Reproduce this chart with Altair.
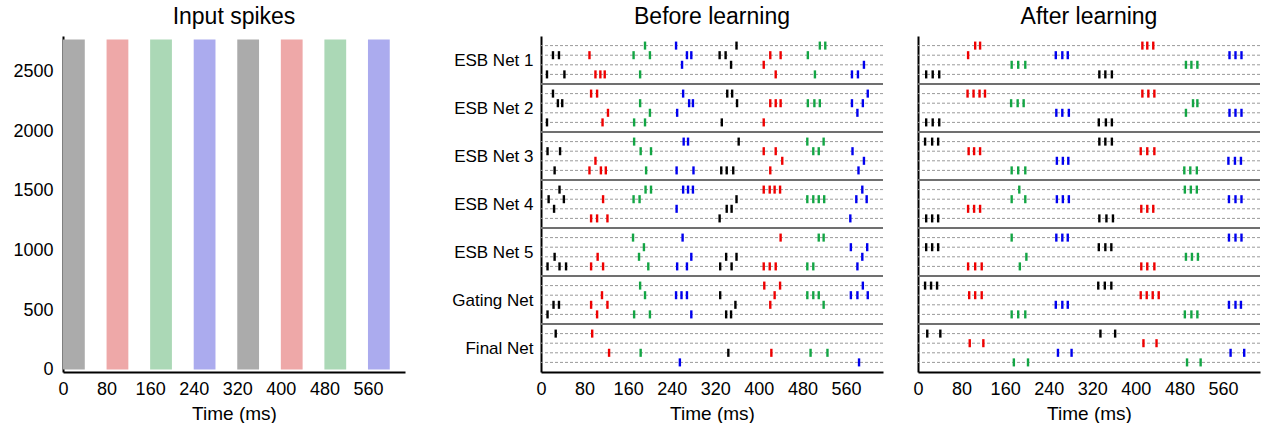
import altair as alt
import pandas as pd

FONT = "Liberation Sans"

# ---------------- text / ticks ----------------
GROUP_NAMES = ["ESB Net 1", "ESB Net 2", "ESB Net 3", "ESB Net 4",
               "ESB Net 5", "Gating Net", "Final Net"]
X_TICKS = [0, 80, 160, 240, 320, 400, 480, 560]
Y_TICKS_INPUT = [0, 500, 1000, 1500, 2000, 2500]
TITLES = ["Input spikes", "Before learning", "After learning"]
X_TITLE = "Time (ms)"

# ---------------- input spike bands ----------------
BAND_START = [0, 80, 160, 240, 320, 400, 480, 560]
BAND_END = [40, 120, 200, 280, 360, 440, 520, 600]
BAND_COLOR = ["k", "r", "g", "b", "k", "r", "g", "b"]
INPUT_NEURONS = 2770

# ---------------- spikes: (time ms, colour) per row, 4 rows per net ----------------
BEFORE_1 = [
    [(191, "g"), (248, "b"), (359, "k"), (512, "g"), (522, "g")],
    [(22, "k"), (33, "k"), (89, "r"), (170, "g"), (200, "g"), (268, "b"), (276, "b"),
     (328, "k"), (339, "k"), (421, "r"), (440, "r"), (490, "g")],
    [(259, "b"), (349, "k"), (409, "r"), (593, "b")],
    [(11, "k"), (43, "k"), (100, "r"), (109, "r"), (117, "r"), (182, "g"), (431, "r"),
     (503, "g"), (571, "b"), (582, "b")],
]
BEFORE_2 = [
    [(22, "k"), (92, "r"), (103, "r"), (261, "b"), (342, "k"), (351, "k"), (600, "b")],
    [(31, "k"), (39, "k"), (182, "g"), (272, "b"), (279, "b"), (360, "k"), (421, "r"),
     (431, "r"), (440, "r"), (490, "g"), (502, "g"), (512, "g"), (571, "b"), (591, "b")],
    [(123, "r"), (200, "g"), (250, "b"), (581, "b")],
    [(11, "k"), (113, "r"), (171, "g"), (191, "g"), (332, "k"), (409, "r")],
]
BEFORE_3 = [
    [(171, "g"), (262, "b"), (270, "b"), (363, "k"), (489, "g"), (519, "g")],
    [(12, "k"), (35, "k"), (183, "g"), (202, "g"), (409, "r"), (431, "r"), (500, "g"),
     (510, "g"), (572, "b")],
    [(100, "r"), (443, "r"), (593, "b")],
    [(25, "k"), (89, "r"), (110, "r"), (119, "r"), (193, "g"), (249, "b"), (280, "b"),
     (331, "k"), (341, "k"), (353, "k"), (421, "r"), (583, "b")],
]
BEFORE_4 = [
    [(34, "k"), (192, "g"), (202, "g"), (261, "b"), (270, "b"), (279, "b"), (409, "r"),
     (420, "r"), (429, "r"), (439, "r"), (590, "b")],
    [(14, "k"), (42, "k"), (114, "r"), (170, "g"), (181, "g"), (359, "k"), (489, "g"),
     (500, "g"), (510, "g"), (520, "g"), (579, "b"), (598, "b")],
    [(24, "k"), (249, "b"), (341, "k"), (350, "k")],
    [(92, "r"), (103, "r"), (122, "r"), (328, "k"), (568, "b")],
]
BEFORE_5 = [
    [(169, "g"), (260, "b"), (440, "r"), (510, "g"), (519, "g")],
    [(189, "g"), (569, "b"), (599, "b")],
    [(25, "k"), (104, "r"), (180, "g"), (276, "b"), (340, "k"), (359, "k"), (590, "b")],
    [(12, "k"), (34, "k"), (46, "k"), (92, "r"), (114, "r"), (197, "g"), (250, "b"),
     (268, "b"), (329, "k"), (350, "k"), (409, "r"), (420, "r"), (431, "r"), (489, "g"),
     (500, "g"), (581, "b")],
]
BEFORE_6 = [
    [(182, "g"), (410, "r"), (439, "r"), (591, "b")],
    [(112, "r"), (191, "g"), (248, "b"), (258, "b"), (268, "b"), (329, "k"), (429, "r"),
     (489, "g"), (500, "g"), (510, "g"), (569, "b"), (581, "b"), (600, "b")],
    [(23, "k"), (33, "k"), (92, "r"), (122, "r"), (357, "k"), (421, "r"), (519, "g")],
    [(12, "k"), (103, "r"), (171, "g"), (200, "g"), (276, "b"), (340, "k"), (349, "k")],
]
BEFORE_7 = [
    [(27, "k"), (94, "r")],
    [],
    [(125, "r"), (183, "g"), (344, "k"), (423, "r"), (495, "g"), (526, "g")],
    [(255, "b"), (584, "b")],
]

AFTER_1 = [
    [(105, "r"), (114, "r"), (412, "r"), (421, "r"), (432, "r")],
    [(92, "r"), (253, "b"), (265, "b"), (275, "b"), (572, "b"), (583, "b"), (594, "b")],
    [(172, "g"), (184, "g"), (197, "g"), (492, "g"), (502, "g"), (513, "g")],
    [(15, "k"), (27, "k"), (39, "k"), (333, "k"), (344, "k"), (356, "k")],
]
AFTER_2 = [
    [(91, "r"), (102, "r"), (113, "r"), (123, "r"), (412, "r"), (423, "r"), (434, "r")],
    [(171, "g"), (183, "g"), (194, "g"), (505, "g"), (513, "g")],
    [(254, "b"), (265, "b"), (277, "b"), (492, "g"), (572, "b"), (583, "b"), (594, "b")],
    [(15, "k"), (27, "k"), (39, "k"), (332, "k"), (345, "k"), (356, "k")],
]
AFTER_3 = [
    [(13, "k"), (26, "k"), (37, "k"), (333, "k"), (344, "k"), (356, "k")],
    [(93, "r"), (103, "r"), (114, "r"), (409, "r"), (421, "r"), (434, "r")],
    [(255, "b"), (266, "b"), (276, "b"), (570, "b"), (582, "b"), (593, "b")],
    [(172, "g"), (184, "g"), (197, "g"), (489, "g"), (500, "g"), (512, "g")],
]
AFTER_4 = [
    [(186, "g"), (490, "g"), (501, "g"), (512, "g")],
    [(172, "g"), (197, "g"), (255, "b"), (266, "b"), (277, "b"), (571, "b"), (583, "b"),
     (594, "b")],
    [(92, "r"), (103, "r"), (114, "r"), (410, "r"), (421, "r"), (432, "r")],
    [(15, "k"), (26, "k"), (37, "k"), (333, "k"), (346, "k"), (358, "k")],
]
AFTER_5 = [
    [(172, "g"), (254, "b"), (265, "b"), (275, "b"), (571, "b"), (583, "b"), (594, "b")],
    [(15, "k"), (26, "k"), (37, "k"), (332, "k"), (344, "k"), (355, "k")],
    [(199, "g"), (492, "g"), (503, "g"), (514, "g")],
    [(92, "r"), (105, "r"), (117, "r"), (187, "g"), (410, "r"), (421, "r"), (434, "r")],
]
AFTER_6 = [
    [(13, "k"), (24, "k"), (35, "k"), (331, "k"), (343, "k"), (355, "k")],
    [(94, "r"), (105, "r"), (117, "r"), (409, "r"), (420, "r"), (431, "r"), (442, "r")],
    [(253, "b"), (265, "b"), (275, "b"), (571, "b"), (583, "b"), (593, "b")],
    [(172, "g"), (184, "g"), (197, "g"), (490, "g"), (502, "g"), (513, "g")],
]
AFTER_7 = [
    [(17, "k"), (41, "k"), (335, "k"), (362, "k")],
    [(95, "r"), (120, "r"), (414, "r"), (438, "r")],
    [(257, "b"), (282, "b"), (574, "b"), (599, "b")],
    [(176, "g"), (202, "g"), (494, "g"), (519, "g")],
]

BEFORE = [BEFORE_1, BEFORE_2, BEFORE_3, BEFORE_4, BEFORE_5, BEFORE_6, BEFORE_7]
AFTER = [AFTER_1, AFTER_2, AFTER_3, AFTER_4, AFTER_5, AFTER_6, AFTER_7]

COLOR_KEYS = ["k", "r", "g", "b"]
SPIKE_COLORS = ["#000000", "#ee0000", "#13a544", "#0000ee"]
BAND_TINTS = ["#ababab", "#eea8a8", "#abd8b6", "#ababee"]

ROWS_PER_NET = 4
UNITS_PER_NET = ROWS_PER_NET + 1
N_NETS = len(GROUP_NAMES)
X_MAX = 628

# ---------------- frames ----------------
def spikes_frame(groups):
    recs = []
    for g, rows in enumerate(groups):
        for r, row in enumerate(rows):
            pos = g * UNITS_PER_NET + r + 1
            for t, c in row:
                recs.append({"t": t, "c": c, "y0": pos - 0.42, "y1": pos + 0.42})
    return pd.DataFrame(recs)

row_lines = pd.DataFrame({"pos": [g * UNITS_PER_NET + r + 1
                                  for g in range(N_NETS) for r in range(ROWS_PER_NET)]})
sep_lines = pd.DataFrame({"pos": [g * UNITS_PER_NET for g in range(1, N_NETS)]})
bands = pd.DataFrame({"s": BAND_START, "e": BAND_END, "band": BAND_COLOR,
                      "n0": [0] * len(BAND_START), "n1": [INPUT_NEURONS] * len(BAND_START)})

# ---------------- axes ----------------
x_scale = alt.Scale(domain=[0, X_MAX], nice=False, zero=False)
x_axis = alt.Axis(values=X_TICKS, ticks=False, grid=False, domainColor="black",
                  domainWidth=2, labelFontSize=18, labelFont=FONT, labelColor="black",
                  labelPadding=8, labelFlush=False, labelOverlap=False,
                  title=X_TITLE, titleFontSize=19, titleFont=FONT,
                  titleFontWeight="normal", titleColor="black", titlePadding=6)

def panel_title(text):
    return alt.TitleParams(text, fontSize=23, font=FONT, fontWeight="normal",
                           color="black", anchor="middle", offset=7)

PH = 336
PW = 342

# Panel 1 : input spikes
p1 = alt.Chart(bands).mark_rect().encode(
    x=alt.X("s:Q", scale=x_scale, axis=x_axis),
    x2="e:Q",
    y=alt.Y("n0:Q", scale=alt.Scale(domain=[-20, 2800], nice=False, zero=False),
            axis=alt.Axis(values=Y_TICKS_INPUT, format="d", ticks=False, grid=False,
                          domainColor="black", domainWidth=2, labelFontSize=18,
                          labelFont=FONT, labelColor="black", labelPadding=10,
                          minExtent=58, maxExtent=58, title=None)),
    y2="n1:Q",
    fill=alt.Fill("band:N", scale=alt.Scale(domain=COLOR_KEYS, range=BAND_TINTS), legend=None),
).properties(width=PW, height=PH, title=panel_title(TITLES[0]))

label_expr = "[" + ",".join("'%s'" % n for n in GROUP_NAMES) + "][floor(datum.value / %d)]" % UNITS_PER_NET
y_scale = alt.Scale(domain=[0, N_NETS * UNITS_PER_NET], reverse=True, nice=False, zero=False)

def raster_panel(groups, title, show_labels, extent):
    y_axis = alt.Axis(values=[g * UNITS_PER_NET + UNITS_PER_NET / 2 for g in range(N_NETS)],
                      labelExpr=label_expr, labels=show_labels, ticks=False, grid=False,
                      domainColor="black", domainWidth=2, labelFontSize=17, labelFont=FONT,
                      labelColor="black", labelPadding=8, minExtent=extent,
                      maxExtent=extent, title=None)
    dashed = alt.Chart(row_lines).mark_rule(color="#9a9a9a", strokeWidth=1,
                                            strokeDash=[3, 2]).encode(
        y=alt.Y("pos:Q", scale=y_scale, axis=y_axis))
    seps = alt.Chart(sep_lines).mark_rule(color="#707070", strokeWidth=1.8).encode(
        y=alt.Y("pos:Q", scale=y_scale, axis=y_axis))
    spikes = alt.Chart(spikes_frame(groups)).mark_rule(
        strokeWidth=2.4, opacity=1, strokeCap="butt").encode(
        x=alt.X("t:Q", scale=x_scale, axis=x_axis),
        y=alt.Y("y0:Q", scale=y_scale, axis=y_axis),
        y2="y1:Q",
        color=alt.Color("c:N", scale=alt.Scale(domain=COLOR_KEYS, range=SPIKE_COLORS),
                        legend=None),
    )
    return alt.layer(dashed, seps, spikes).properties(
        width=PW, height=PH, title=panel_title(title))

p2 = raster_panel(BEFORE, TITLES[1], True, 116)
p3 = raster_panel(AFTER, TITLES[2], False, 14)

chart = alt.hconcat(p1, p2, p3, spacing=20).resolve_scale(
    color="independent", fill="independent"
).properties(
    padding={"left": 5, "top": 6, "right": 0, "bottom": 0},
    background="white",
).configure_view(stroke=None)

chart.save("out.html", embed_options={"renderer": "svg", "actions": False})
